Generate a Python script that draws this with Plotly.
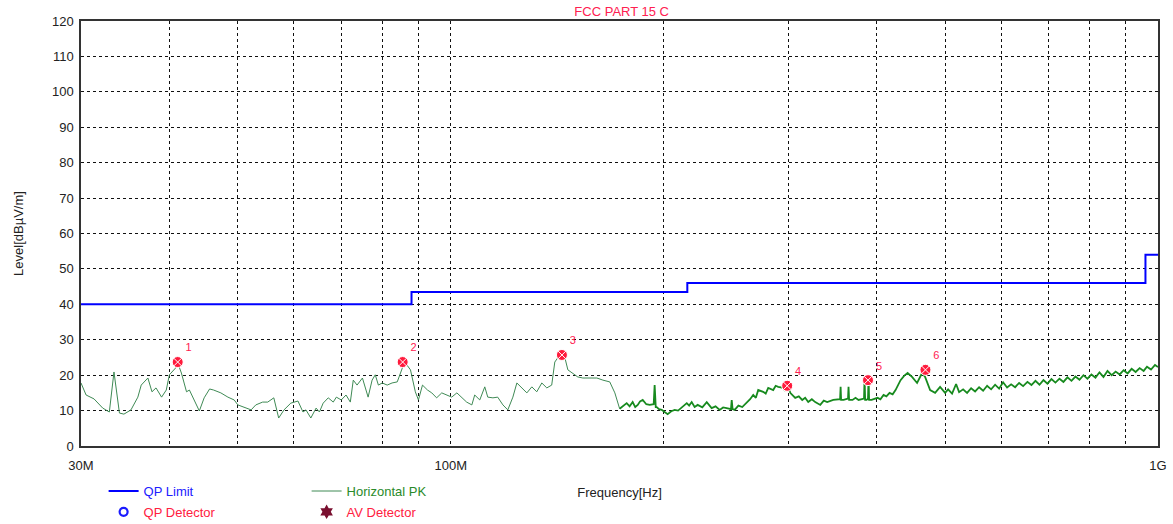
import plotly.graph_objects as go

# ---------------- data ----------------
# QP limit (step line), frequency in MHz
limit_freq = [30, 88, 216, 960, 1000]
limit_level = [40, 43.5, 46, 54, 54]

# Horizontal PK trace - lower band (30 MHz .. ~173 MHz)
pk_low_freq = [30.0, 30.5, 31.3, 32.2, 32.9, 33.4, 34.0, 34.5, 35.3, 36.1, 36.5, 37.3, 37.8, 38.3,
               39.0, 39.6, 40.0, 41.2, 41.6, 42.3, 42.7, 43.4, 44.1, 44.8, 45.6, 46.2, 47.3, 48.4,
               49.4, 50.0, 51.0, 52.2, 53.0, 54.2, 55.1, 56.2, 57.1, 58.1, 59.4, 60.8, 61.8, 62.4,
               63.4, 64.5, 65.2, 66.0, 67.1, 68.2, 68.9, 70.0, 71.1, 72.1, 72.8, 73.7, 75.0, 75.7,
               76.4, 77.4, 78.2, 79.0, 80.0, 81.3, 82.6, 84.0, 85.4, 86.3, 87.7, 89.1, 90.0, 91.2,
               92.7, 94.0, 95.5, 97.1, 98.7, 100.3, 102.0, 103.6, 105.3, 107.1, 108.1, 109.9, 111.7,
               112.8, 114.7, 116.5, 118.5, 120.4, 122.4, 124.0, 126.0, 128.1, 130.2, 132.3, 134.5,
               136.7, 138.9, 140.3, 142.6, 145.0, 146.4, 148.8, 151.2, 153.7, 157.3, 160.9, 164.1,
               167.8, 170.6, 173.3]
pk_low_level = [17.8, 14.4, 13.3, 10.7, 9.6, 20.9, 9.3, 9.0, 10.2, 13.8, 17.2, 19.2, 15.3, 16.4,
                13.8, 15.8, 20.1, 22.9, 20.6, 15.3, 15.8, 13.0, 9.9, 13.6, 16.1, 15.8, 15.0, 13.8,
                13.0, 11.6, 11.0, 10.2, 11.6, 12.4, 12.4, 13.6, 7.9, 10.2, 12.1, 12.7, 9.6, 10.2,
                7.9, 10.7, 9.6, 12.1, 13.6, 12.4, 13.8, 13.0, 14.4, 12.4, 18.6, 17.2, 19.2, 16.4,
                13.8, 18.6, 20.1, 17.2, 17.8, 17.2, 17.8, 18.1, 22.0, 23.4, 21.5, 15.3, 13.0, 17.2,
                15.8, 15.0, 13.6, 15.0, 14.4, 13.8, 15.0, 13.8, 12.4, 11.6, 14.4, 13.0, 16.7,
                13.8, 13.6, 13.8, 11.6, 10.2, 13.8, 17.8, 16.4, 15.0, 16.7, 15.3, 17.8,
                16.4, 17.2, 23.7, 25.7, 24.9, 21.5, 20.6, 19.5, 19.2, 19.2, 19.2, 18.6,
                18.1, 15.0, 10.5]

# Horizontal PK trace - upper band (~173 MHz .. 1 GHz)
pk_high_freq = [173.3, 175.2, 177.3, 179.0, 180.8, 182.3, 183.8, 185.2, 186.8, 189.0, 191.1, 193.6,
                194.2, 194.9, 195.5, 197.0, 198.7, 200.6, 202.6, 205.0, 207.3, 209.6, 212.1, 215.6,
                217.3, 219.1, 221.2, 223.4, 226.8, 230.1, 233.8, 236.8, 240.0, 242.7, 245.5, 249.0,
                249.6, 250.3, 252.0, 255.1, 258.3, 262.5, 265.0, 267.7, 270.0, 272.1, 276.5, 278.8,
                281.1, 285.7, 288.0, 290.4, 295.2, 297.0, 299.0, 302.0, 306.9, 310.5, 314.0, 317.0,
                320.2, 324.0, 327.6, 333.0, 336.8, 340.6, 347.4, 355.2, 355.8, 356.4, 359.2, 364.5,
                365.1, 365.8, 369.9, 373.5, 377.2, 384.0, 384.7, 385.4, 387.2, 389.0, 389.7, 390.4,
                393.5, 401.3, 405.0, 409.2, 413.0, 417.3, 421.5, 425.5, 429.0, 432.5, 437.5, 442.5,
                449.0, 456.4, 463.9, 468.5, 476.2, 484.0, 491.9, 500.0, 504.9, 511.5, 518.2, 523.3,
                530.2, 537.1, 544.2, 551.3, 558.5, 565.9, 573.3, 580.8, 588.4, 596.1, 603.9, 611.8,
                619.9, 628.0, 636.2, 644.6, 653.7, 662.3, 671.0, 679.8, 688.7, 697.7, 706.9, 716.1,
                725.5, 735.0, 744.7, 754.5, 764.3, 774.4, 784.5, 794.8, 805.2, 815.8, 826.5, 837.3,
                848.3, 859.9, 871.2, 882.6, 894.2, 905.9, 917.8, 929.8, 942.0, 954.3, 964.8, 977.5,
                990.3, 1000.0]
pk_high_level = [10.5, 11.3, 12.1, 11.2, 12.4, 11.0, 11.6, 12.6, 13.0, 11.8, 11.6, 11.8,
                 17.2, 11.0, 11.0, 10.4, 10.2, 9.6, 9.0, 9.8, 10.2, 10.0, 11.0, 12.1,
                 11.4, 12.4, 11.0, 11.6, 10.9, 12.4, 10.7, 11.2, 10.2, 10.9, 10.7, 10.4,
                 13.0, 10.4, 10.2, 11.4, 11.0, 12.4, 13.2, 14.4, 13.6, 15.8, 15.3, 14.8,
                 16.4, 15.8, 17.0, 16.7, 16.4, 15.6, 17.8, 15.0, 13.6, 14.0, 13.0, 13.6,
                 12.4, 13.2, 12.4, 11.6, 12.8, 12.4, 13.0, 13.2, 16.7, 13.0, 13.0, 13.4,
                 16.7, 13.0, 13.0, 13.6, 13.0, 13.4, 19.5, 13.0, 13.0, 13.4, 19.5, 13.0,
                 13.0, 13.6, 13.2, 14.4, 14.0, 15.0, 14.6, 15.8, 17.0, 18.6, 19.8, 20.6,
                 19.5, 17.8, 20.6, 19.5, 15.8, 15.0, 16.7, 15.0, 16.0, 14.8, 17.5, 15.2,
                 16.0, 15.0, 16.3, 15.4, 16.6, 15.6, 17.0, 16.0, 17.3, 16.2, 18.0, 16.5,
                 17.4, 16.6, 17.8, 16.9, 18.1, 17.2, 18.4, 17.3, 18.6, 17.6, 18.9, 17.9,
                 19.0, 18.1, 19.4, 18.4, 19.6, 18.7, 20.0, 19.0, 20.2, 19.3, 20.8, 19.5,
                 21.2, 20.0, 21.0, 20.2, 21.4, 20.5, 21.8, 20.9, 22.0, 21.2, 22.4, 21.6,
                 22.9, 22.3]

# Marked peaks
peak_freq = [41.1, 85.5, 143.6, 299.0, 389.0, 469.0]
peak_level = [23.7, 23.7, 25.7, 17.0, 18.6, 21.5]
peak_labels = ["1", "2", "3", "4", "5", "6"]

# Axis ticks
x_grid = [30, 40, 50, 60, 70, 80, 90, 100, 200, 300, 400, 500, 600, 700, 800, 900, 1000]
x_tick_text = ["30M", "", "", "", "", "", "", "100M", "", "", "", "", "", "", "", "", "1G"]
y_ticks = list(range(0, 121, 10))

# ---------------- figure ----------------
FONT = "Liberation Sans, Arial, sans-serif"
fig = go.Figure()

fig.add_trace(go.Scatter(
    x=limit_freq, y=limit_level, mode="lines", line=dict(color="#0000ff", width=2, shape="hv"),
    name="<span style='color:#2020ff'>QP Limit</span>", legend="legend"))

fig.add_trace(go.Scatter(
    x=pk_low_freq, y=pk_low_level, mode="lines", line=dict(color="#3f8a55", width=1),
    name="<span style='color:#2a8a2a'>Horizontal PK</span>", legend="legend",
    legendgroup="pk"))
fig.add_trace(go.Scatter(
    x=pk_high_freq, y=pk_high_level, mode="lines", line=dict(color="#178a1e", width=1.8),
    name="Horizontal PK", showlegend=False, legendgroup="pk"))

fig.add_trace(go.Scatter(
    x=peak_freq, y=peak_level, mode="markers+text", text=peak_labels,
    textposition="top right", textfont=dict(color="#ff2050", size=11, family=FONT),
    marker=dict(symbol="circle-x", size=11, color="#ff1a3c", line=dict(color="white", width=1.0)),
    showlegend=False, hoverinfo="skip"))

fig.add_trace(go.Scatter(
    x=[None], y=[None], mode="markers",
    marker=dict(symbol="circle-open", size=8, color="#1a1aff", line=dict(width=2.2)),
    name="<span style='color:#ff2040'>QP Detector</span>", legend="legend2"))
fig.add_trace(go.Scatter(
    x=[None], y=[None], mode="markers",
    marker=dict(symbol="hexagram", size=11, color="#7a1030"),
    name="<span style='color:#ff2040'>AV Detector</span>", legend="legend2"))

fig.update_layout(
    width=1173, height=524,
    margin=dict(l=81, r=15, t=21, b=78, autoexpand=False),
    paper_bgcolor="white", plot_bgcolor="white",
    font=dict(family=FONT, size=13, color="#222222"),
    title=dict(text="FCC PART 15 C", x=0.53, xanchor="center", y=0.979, yanchor="middle",
               font=dict(family=FONT, size=13, color="#ff2050")),
    xaxis=dict(type="log", range=[1.4771213, 3.0], tickmode="array", tickvals=x_grid,
               ticktext=x_tick_text, showgrid=True, gridcolor="#111111", griddash="dot",
               gridwidth=1, showline=True, linecolor="#333333", linewidth=1.5, mirror=True,
               ticks="", zeroline=False, automargin=False, ticklabelstandoff=7,
               tickfont=dict(size=13, color="#222222"),
               title=dict(text="Frequency[Hz]", standoff=16, font=dict(size=13, color="#222222"))),
    yaxis=dict(range=[0, 120], tickmode="array", tickvals=y_ticks, showgrid=True,
               gridcolor="#111111", griddash="dot", gridwidth=1, showline=True,
               linecolor="#333333", linewidth=1.5, mirror=True, ticks="", zeroline=False,
               automargin=False, ticklabelstandoff=3,
               tickfont=dict(size=13, color="#222222"),
               title=dict(text="Level[dBµV/m]", standoff=25, font=dict(size=13, color="#222222"))),
    legend=dict(orientation="h", x=0.021, xanchor="left", y=-0.106, yanchor="middle",
                entrywidth=158, entrywidthmode="pixels", font=dict(size=13, family=FONT),
                bgcolor="rgba(0,0,0,0)", itemwidth=30, tracegroupgap=0),
    legend2=dict(orientation="h", x=0.021, xanchor="left", y=-0.155, yanchor="middle",
                 entrywidth=158, entrywidthmode="pixels", font=dict(size=13, family=FONT),
                 bgcolor="rgba(0,0,0,0)", itemwidth=30),
)

fig.write_html(
    "out.html",
    config={"displayModeBar": False},
    post_script="document.body.style.margin='0';document.body.style.padding='0';"
                "document.body.style.overflow='hidden';")
